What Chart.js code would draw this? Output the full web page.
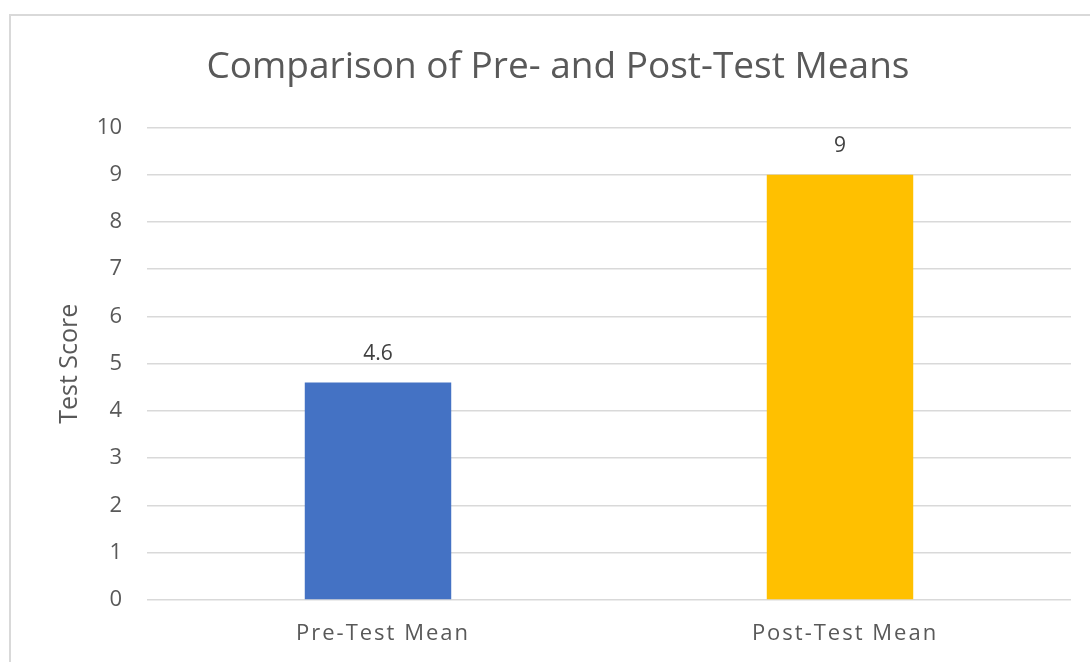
<!DOCTYPE html>
<html>
<head>
<meta charset="utf-8">
<script src="https://cdn.jsdelivr.net/npm/chart.js@4.4.0/dist/chart.umd.min.js"></script>
<style>
    body { margin: 0; background: #fff; overflow: hidden; }
    #frame { position: absolute; left: 9px; top: 14px; width: 1100px; height: 700px; border: 2px solid #d9d9d9; }
    #wrap { position: absolute; left: 0; top: 0; width: 1090px; height: 662px; }
</style>
</head>
<body>
<div id="frame"></div>
<div id="wrap"><canvas id="chart"></canvas></div>
<script>
// Chart data
const categories = ['Pre-Test Mean', 'Post-Test Mean'];
const means = [4.6, 9];
const barColors = ['#4472C4', '#FFC000'];
const yMin = 0;
const yMax = 10;
const yStep = 1;

const FONT = '"Open Sans", Lato, sans-serif';

// Value labels above the bars
const valueLabels = {
    id: 'valueLabels',
    afterDatasetsDraw(chart) {
        const ctx = chart.ctx;
        const meta = chart.getDatasetMeta(0);
        ctx.save();
        ctx.font = '21px ' + FONT;
        ctx.fillStyle = '#404040';
        ctx.textAlign = 'center';
        ctx.textBaseline = 'middle';
        meta.data.forEach((bar, i) => {
            ctx.fillText(String(means[i]), bar.x, bar.y - 29);
        });
        ctx.restore();
    }
};

// Category labels, spaced out like the original
const categoryLabels = {
    id: 'categoryLabels',
    afterDraw(chart) {
        const ctx = chart.ctx;
        const xScale = chart.scales.x;
        ctx.save();
        ctx.font = '22px ' + FONT;
        ctx.fillStyle = '#595959';
        ctx.textAlign = 'center';
        ctx.textBaseline = 'middle';
        if ('letterSpacing' in ctx) ctx.letterSpacing = '2px';
        categories.forEach((label, i) => {
            ctx.fillText(label, xScale.getPixelForValue(i) + 5, xScale.top + 34);
        });
        ctx.restore();
    }
};

const ctx = document.getElementById('chart').getContext('2d');
new Chart(ctx, {
    type: 'bar',
    data: {
        labels: categories,
        datasets: [{
            data: means,
            backgroundColor: barColors,
            borderWidth: 0,
            categoryPercentage: 1,
            barPercentage: 0.317
        }]
    },
    options: {
        responsive: true,
        maintainAspectRatio: false,
        animation: false,
        layout: {
            padding: { left: 45, right: 19, top: 0, bottom: 0 }
        },
        plugins: {
            legend: { display: false },
            tooltip: { enabled: false },
            title: {
                display: true,
                text: 'Comparison of Pre- and Post-Test Means',
                color: '#595959',
                font: { family: FONT, size: 37, weight: 'normal', lineHeight: 1.2 },
                padding: { top: 45, bottom: 38 }
            }
        },
        scales: {
            x: {
                grid: { display: false, drawBorder: false },
                border: { display: false },
                ticks: { display: false },
                afterFit: function(scale) { scale.height = 62; }
            },
            y: {
                min: yMin,
                max: yMax,
                grid: { color: '#d9d9d9', lineWidth: 1.5, drawTicks: false },
                border: { display: false },
                ticks: {
                    stepSize: yStep,
                    color: '#595959',
                    padding: 25,
                    font: { family: FONT, size: 22 }
                },
                title: {
                    display: true,
                    text: 'Test Score',
                    color: '#595959',
                    font: { family: FONT, size: 25 },
                    padding: { top: 10, bottom: 0 }
                },
                afterFit: function(scale) { scale.width = 102; }
            }
        }
    },
    plugins: [valueLabels, categoryLabels]
});
</script>
</body>
</html>
